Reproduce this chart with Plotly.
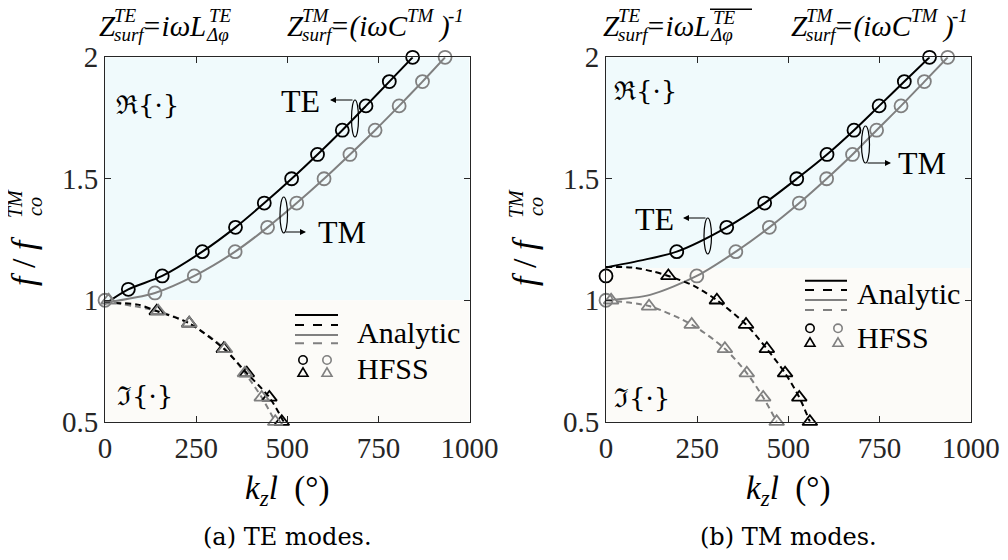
import plotly.graph_objects as go

W, H = 1008, 560
OFF = 8  # page body margin of the browser

# ---------------- data ----------------
# Panel (a) TE modes
a_te_re_line_x = [0, 64, 157, 267, 358, 437, 512, 583, 651, 716, 780, 844]
a_te_re_line_y = [0.985, 1.045, 1.1, 1.2, 1.3, 1.4, 1.5, 1.6, 1.7, 1.8, 1.9, 2.0]
a_tm_re_line_x = [0, 137, 245, 357, 446, 526, 601, 672, 741, 807, 871, 933]
a_tm_re_line_y = [0.99, 1.03, 1.1, 1.2, 1.3, 1.4, 1.5, 1.6, 1.7, 1.8, 1.9, 2.0]
a_te_im_line_x = [0, 90, 142, 231, 326, 389, 451, 490]
a_te_im_line_y = [0.99, 0.982, 0.955, 0.905, 0.8, 0.7, 0.6, 0.5]
a_tm_im_line_x = [0, 146, 231, 329, 384, 430, 467]
a_tm_im_line_y = [0.995, 0.955, 0.905, 0.8, 0.7, 0.6, 0.5]

a_te_re_hfss_x = [64, 157, 267, 358, 437, 512, 583, 651, 716, 780, 844]
a_te_re_hfss_y = [1.045, 1.1, 1.2, 1.3, 1.4, 1.5, 1.6, 1.7, 1.8, 1.9, 2.0]
a_tm_re_hfss_x = [0, 137, 245, 357, 446, 526, 601, 672, 741, 807, 871, 933]
a_tm_re_hfss_y = [1.0, 1.03, 1.1, 1.2, 1.3, 1.4, 1.5, 1.6, 1.7, 1.8, 1.9, 2.0]
a_te_im_hfss_x = [142, 231, 326, 389, 451, 485]
a_te_im_hfss_y = [0.955, 0.905, 0.8, 0.7, 0.6, 0.5]
a_tm_im_hfss_x = [10, 146, 231, 329, 384, 430, 467]
a_tm_im_hfss_y = [1.0, 0.955, 0.905, 0.8, 0.7, 0.6, 0.5]

# Panel (b) TM modes
b_te_re_line_x = [0, 93, 194, 331, 435, 523, 606, 680, 749, 818, 887]
b_te_re_line_y = [1.135, 1.163, 1.2, 1.3, 1.4, 1.5, 1.6, 1.7, 1.8, 1.9, 2.0]
b_tm_re_line_x = [0, 121, 249, 356, 448, 530, 605, 676, 742, 809, 873, 937]
b_tm_re_line_y = [1.0, 1.022, 1.1, 1.2, 1.3, 1.4, 1.5, 1.6, 1.7, 1.8, 1.9, 2.0]
b_te_im_line_x = [0, 75, 130, 171, 240, 304, 384, 441, 491, 530, 559]
b_te_im_line_y = [1.137, 1.134, 1.118, 1.1, 1.06, 1.0, 0.9, 0.8, 0.7, 0.6, 0.5]
b_tm_im_line_x = [0, 118, 235, 326, 386, 431, 468]
b_tm_im_line_y = [1.0, 0.976, 0.9, 0.8, 0.7, 0.6, 0.5]

b_te_re_hfss_x = [0, 194, 331, 435, 523, 606, 680, 749, 818, 887]
b_te_re_hfss_y = [1.1, 1.2, 1.3, 1.4, 1.5, 1.6, 1.7, 1.8, 1.9, 2.0]
b_tm_re_hfss_x = [0, 249, 356, 448, 530, 605, 676, 742, 809, 873, 937]
b_tm_re_hfss_y = [1.0, 1.1, 1.2, 1.3, 1.4, 1.5, 1.6, 1.7, 1.8, 1.9, 2.0]
b_te_im_hfss_x = [171, 304, 384, 441, 491, 530, 559]
b_te_im_hfss_y = [1.1, 1.0, 0.9, 0.8, 0.7, 0.6, 0.5]
b_tm_im_hfss_x = [14, 118, 235, 326, 386, 431, 468]
b_tm_im_hfss_y = [1.0, 0.975, 0.9, 0.8, 0.7, 0.6, 0.5]

# boundary between real (upper) and imaginary (lower) shading
a_split = 1.0
b_split = 1.133

x_ticks = [0, 250, 500, 750, 1000]
x_tick_text = ["0", "250", "500", "750", "1000"]
y_ticks = [0.5, 1, 1.5, 2]
y_tick_text = ["0.5", "1", "1.5", "2"]
captions = ["(a) TE modes.", "(b) TM modes."]

# ---------------- styling ----------------
BLACK = "#000000"
GRAY = "#808080"
AXC = "#262626"
BLUE_BG = "#f0fafc"
BEIGE_BG = "#fcfbf8"
SERIF = "Liberation Serif"
CAPF = "DejaVu Serif"
NB = "\u00a0"

fig = go.Figure()


def px(x):
    return (x - OFF) / W


def py(y):
    return 1 - (y - OFF) / H


panels = [
    dict(xa="x", ya="y",
         lines=[(a_te_re_line_x, a_te_re_line_y, BLACK, "solid"),
                (a_tm_re_line_x, a_tm_re_line_y, GRAY, "solid"),
                (a_tm_im_line_x, a_tm_im_line_y, GRAY, "6px,4px"),
                (a_te_im_line_x, a_te_im_line_y, BLACK, "6px,4px")],
         marks=[(a_tm_re_hfss_x, a_tm_re_hfss_y, GRAY, "circle-open"),
                (a_te_re_hfss_x, a_te_re_hfss_y, BLACK, "circle-open"),
                (a_te_im_hfss_x, a_te_im_hfss_y, BLACK, "triangle-up-open"),
                (a_tm_im_hfss_x, a_tm_im_hfss_y, GRAY, "triangle-up-open")],
         split=a_split),
    dict(xa="x2", ya="y2",
         lines=[(b_te_re_line_x, b_te_re_line_y, BLACK, "solid"),
                (b_tm_re_line_x, b_tm_re_line_y, GRAY, "solid"),
                (b_tm_im_line_x, b_tm_im_line_y, GRAY, "6px,4px"),
                (b_te_im_line_x, b_te_im_line_y, BLACK, "6px,4px")],
         marks=[(b_tm_re_hfss_x, b_tm_re_hfss_y, GRAY, "circle-open"),
                (b_te_re_hfss_x, b_te_re_hfss_y, BLACK, "circle-open"),
                (b_te_im_hfss_x, b_te_im_hfss_y, BLACK, "triangle-up-open"),
                (b_tm_im_hfss_x, b_tm_im_hfss_y, GRAY, "triangle-up-open")],
         split=b_split),
]

shapes = []
annotations = []

for p in panels:
    for xs, ys, col, dash in p["lines"]:
        fig.add_trace(go.Scatter(x=xs, y=ys, mode="lines", xaxis=p["xa"], yaxis=p["ya"],
                                 line=dict(color=col, width=2, dash=dash, shape="spline", smoothing=0.8),
                                 showlegend=False, hoverinfo="skip"))
    for xs, ys, col, sym in p["marks"]:
        fig.add_trace(go.Scatter(x=xs, y=ys, mode="markers", xaxis=p["xa"], yaxis=p["ya"],
                                 marker=dict(symbol=sym, size=13, color=col, line=dict(color=col, width=1.8)),
                                 showlegend=False, hoverinfo="skip", cliponaxis=False))
    shapes.append(dict(type="rect", xref=p["xa"], yref=p["ya"], x0=0, x1=1000, y0=p["split"], y1=2,
                       fillcolor=BLUE_BG, line=dict(width=0), layer="below"))
    shapes.append(dict(type="rect", xref=p["xa"], yref=p["ya"], x0=0, x1=1000, y0=0.5, y1=p["split"],
                       fillcolor=BEIGE_BG, line=dict(width=0), layer="below"))

# axes
dom_y = [py(421.7), py(57.3)]
axis_common = dict(showgrid=False, zeroline=False, showline=True, linecolor=AXC, linewidth=1,
                   mirror="ticks", ticks="inside", ticklen=6, tickcolor=AXC, automargin=False,
                   tickfont=dict(family=SERIF, size=29, color=AXC))
fig.update_layout(
    xaxis=dict(domain=[px(105), px(469.5)], range=[0, 1000], tickvals=x_ticks, ticktext=x_tick_text,
               anchor="y", **axis_common),
    yaxis=dict(domain=dom_y, range=[0.5, 2], tickvals=y_ticks, ticktext=y_tick_text, anchor="x", **axis_common),
    xaxis2=dict(domain=[px(606), px(970.7)], range=[0, 1000], tickvals=x_ticks, ticktext=x_tick_text,
                anchor="y2", **axis_common),
    yaxis2=dict(domain=dom_y, range=[0.5, 2], tickvals=y_ticks, ticktext=y_tick_text, anchor="x2", **axis_common),
)


def txt(text, x, y, size, family=SERIF, xanchor="left", angle=0, color=BLACK):
    annotations.append(dict(text=text, x=px(x), y=py(y), xref="paper", yref="paper", showarrow=False,
                            xanchor=xanchor, yanchor="middle", textangle=angle,
                            font=dict(family=family, size=size, color=color)))


for k, dx in enumerate([0, 501]):
    # titles
    tx = [0, 504][k]
    sup_y = 16 if k == 0 else 17.5
    title_parts = [("Z", 97, 26, 29), ("TE", 112, 16, 19), ("surf", 112, 34, 19), ("=iωL", 140, 26, 29),
                   ("TE", 207, sup_y, 19), ("Δφ", 204, 34, 19), ("Z", 285, 26, 29), ("TM", 300, 16, 19),
                   ("surf", 300, 34, 19), ("=(iωC", 328, 26, 29), ("TM", 405, 16, 19), (")", 436, 26, 29),
                   ("-1", 446, 16, 19)]
    for t, x, y, s in title_parts:
        txt("<i>%s</i>" % t, x + tx, y, s)
    # y label
    txt("<i>f</i>" + NB + "/" + NB + "<i>f</i>", 24 + dx, 261, 34, angle=-90, xanchor="center")
    txt("<i>co</i>", 35 + dx, 207, 20, angle=-90, xanchor="center")
    txt("<i>TM</i>", 15 + dx, 204, 20, angle=-90, xanchor="center")
    # x label
    txt("<i>k</i><sub><i>z</i></sub><i>l</i>" + NB + NB + "(°)", 287 + dx, 490, 33, xanchor="center")
    # caption
    txt(captions[k], 287 + dx, 537, 24, family=CAPF, xanchor="center")

# overline in right title
shapes.append(dict(type="line", xref="paper", yref="paper", x0=px(710), x1=px(752), y0=py(9.2), y1=py(9.2),
                   line=dict(color=BLACK, width=1.4)))

# Re / Im labels
RF = "DejaVu Serif"
txt("ℜ{·}", 114, 105, 26, family=RF)
txt("ℑ{·}", 115, 396, 26, family=RF)
txt("ℜ{·}", 612, 91, 26, family=RF)
txt("ℑ{·}", 612, 398, 26, family=RF)

# TE / TM callouts
txt("TE", 322, 101, 32, xanchor="right")
txt("TM", 316, 232, 32)
txt("TE", 676, 219, 32, xanchor="right")
txt("TM", 896, 163, 32)


def arrow(x0, y0, x1, y1):
    annotations.append(dict(text="", x=px(x1), y=py(y1), xref="paper", yref="paper",
                            ax=x0 - x1, ay=y0 - y1, axref="pixel", ayref="pixel",
                            showarrow=True, arrowhead=2, arrowsize=1, arrowwidth=1.2, arrowcolor=BLACK,
                            standoff=0, startstandoff=0))


def ellipse(x0, x1, y0, y1):
    shapes.append(dict(type="circle", xref="paper", yref="paper", x0=px(x0), x1=px(x1), y0=py(y1), y1=py(y0),
                       line=dict(color=BLACK, width=1.2)))


arrow(354, 100, 330, 100); ellipse(351.5, 358.5, 100, 137)
arrow(284, 232, 306, 232); ellipse(280, 287.5, 197, 233)
arrow(707, 218, 683, 218); ellipse(704, 711.5, 218, 254)
arrow(866, 163, 891, 163); ellipse(861.5, 869.5, 126, 163)

# custom legends
def legend(lx0, lx1, ly, text_x, ay, hy, cx, mry, tri_y):
    styles = [(BLACK, "solid"), (BLACK, "dash"), (GRAY, "solid"), (GRAY, "dash")]
    for (col, dash), yy in zip(styles, ly):
        shapes.append(dict(type="line", xref="paper", yref="paper", x0=px(lx0), x1=px(lx1), y0=py(yy), y1=py(yy),
                           line=dict(color=col, width=2, dash=dash)))
    txt("Analytic", text_x, ay, 30)
    txt("HFSS", text_x, hy, 30)
    for xx, col in zip(cx, [BLACK, GRAY]):
        r = 4.2
        shapes.append(dict(type="circle", xref="paper", yref="paper", x0=px(xx - r), x1=px(xx + r),
                           y0=py(mry + r), y1=py(mry - r), line=dict(color=col, width=1.6)))
        h = 8.5
        w = 5
        path = "M %f %f L %f %f L %f %f Z" % (px(xx - w), py(tri_y + h / 2), px(xx + w), py(tri_y + h / 2),
                                              px(xx), py(tri_y - h / 2))
        shapes.append(dict(type="path", xref="paper", yref="paper", path=path, line=dict(color=col, width=1.6)))


legend(295, 338, [315, 325, 335, 343.3], 355, 332, 368, [303, 327], 360, 372)
legend(805, 847, [280.7, 290, 300, 310], 855, 293, 337, [810, 838], 328.3, 342)

fig.update_layout(width=W, height=H, margin=dict(l=0, r=0, t=0, b=0, autoexpand=False), paper_bgcolor="white",
                  plot_bgcolor="white", shapes=shapes, annotations=annotations, showlegend=False)

fig.write_html("out.html")
